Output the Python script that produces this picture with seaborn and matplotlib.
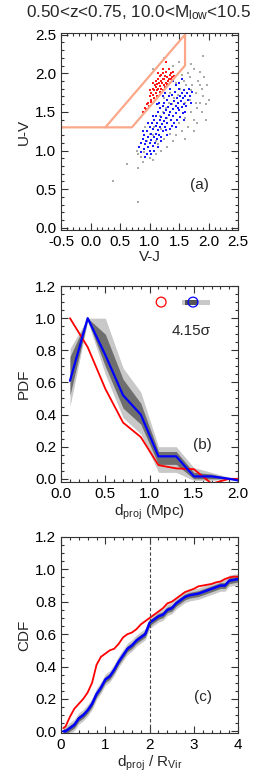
import numpy as np
import pandas as pd
import matplotlib
matplotlib.use("Agg")
import matplotlib.pyplot as plt
import seaborn as sns
from matplotlib.ticker import MultipleLocator

# UVJ 颜色-颜色图中的点
red_vj = [0.92, 0.95, 0.98, 1.00, 1.02, 1.03, 1.05, 1.06, 1.07, 1.08, 1.09, 1.10, 1.10, 1.11, 1.12,
          1.13, 1.14, 1.14, 1.15, 1.16, 1.17, 1.17, 1.18, 1.19, 1.20, 1.20, 1.21, 1.22, 1.23, 1.23,
          1.24, 1.25, 1.26, 1.26, 1.27, 1.28, 1.29, 1.30, 1.31, 1.32, 1.33, 1.34, 1.35, 1.36, 1.38,
          1.40, 1.42, 1.28, 1.03, 0.99, 0.94, 1.12, 1.18, 1.15, 1.22, 1.00, 1.05, 0.88, 1.30, 1.36]
red_uv = [1.55, 1.60, 1.62, 1.70, 1.66, 1.75, 1.72, 1.80, 1.68, 1.78, 1.85, 1.74, 1.82, 1.90, 1.78,
          1.86, 1.70, 1.93, 1.80, 1.88, 1.76, 1.96, 1.84, 1.90, 1.80, 1.98, 1.87, 1.93, 1.78, 2.00,
          1.85, 1.92, 1.82, 1.97, 1.88, 2.02, 1.86, 1.95, 1.90, 2.05, 1.92, 1.98, 1.88, 2.00, 1.95,
          2.02, 1.96, 2.15, 1.63, 1.58, 1.54, 1.70, 1.76, 2.00, 2.06, 1.78, 1.88, 1.50, 1.84, 1.92]

blue_vj = [0.82, 0.85, 0.86, 0.88, 0.90, 0.91, 0.92, 0.94, 0.95, 0.96, 0.97, 0.98, 1.00, 1.00, 1.01,
           1.02, 1.03, 1.04, 1.05, 1.06, 1.07, 1.08, 1.09, 1.10, 1.10, 1.11, 1.12, 1.13, 1.14, 1.15,
           1.16, 1.17, 1.18, 1.18, 1.19, 1.20, 1.21, 1.22, 1.23, 1.24, 1.25, 1.25, 1.26, 1.27, 1.28,
           1.29, 1.30, 1.31, 1.32, 1.33, 1.34, 1.35, 1.36, 1.37, 1.38, 1.39, 1.40, 1.41, 1.42, 1.43,
           1.44, 1.45, 1.46, 1.47, 1.48, 1.49, 1.50, 1.51, 1.52, 1.53, 1.54, 1.55, 1.56, 1.57, 1.58,
           1.59, 1.60, 1.62, 1.63, 1.65, 1.66, 1.68, 1.70, 1.72, 1.12, 1.05, 0.98, 1.15, 1.30, 1.45,
           1.22, 1.35, 1.58, 1.50, 1.40, 1.08, 0.93, 1.20, 1.28, 1.38, 1.48, 1.60, 1.16, 1.26, 1.02,
           0.88, 1.44, 1.55]
blue_uv = [1.05, 1.10, 0.98, 1.15, 1.02, 1.20, 1.08, 1.12, 0.96, 1.25, 1.05, 1.18, 1.10, 1.30, 1.00,
           1.22, 1.14, 1.35, 1.06, 1.28, 1.18, 1.40, 1.10, 1.32, 1.22, 1.45, 1.15, 1.36, 1.26, 1.50,
           1.20, 1.40, 1.30, 1.55, 1.12, 1.44, 1.34, 1.58, 1.25, 1.48, 1.38, 1.62, 1.30, 1.52, 1.42,
           1.66, 1.35, 1.56, 1.46, 1.70, 1.28, 1.50, 1.60, 1.40, 1.72, 1.54, 1.45, 1.64, 1.36, 1.76,
           1.58, 1.48, 1.68, 1.40, 1.62, 1.80, 1.52, 1.70, 1.44, 1.64, 1.75, 1.56, 1.68, 1.48, 1.78,
           1.60, 1.70, 1.58, 1.74, 1.66, 1.80, 1.70, 1.62, 1.76, 1.60, 1.45, 1.35, 1.05, 1.20, 1.30,
           1.70, 1.80, 1.40, 1.88, 1.90, 1.00, 0.92, 1.18, 1.26, 1.32, 1.55, 1.50, 1.62, 1.75, 0.95,
           1.25, 1.85, 1.92]

gray_vj = [0.80, 0.85, 0.78, 0.90, 1.00, 0.95, 1.05, 1.10, 1.15, 1.20, 1.25, 1.30, 1.35, 1.40, 1.45,
           1.50, 1.55, 1.60, 1.65, 1.70, 1.75, 1.80, 1.85, 1.90, 1.95, 2.00, 1.88, 1.82, 1.78, 1.72,
           1.68, 1.65, 1.75, 1.85, 1.92, 1.98, 1.62, 1.58, 1.52, 1.48, 1.42, 1.38, 1.32, 1.28, 1.22,
           1.18, 1.12, 1.08, 1.00, 0.92, 1.15, 1.25, 1.35, 1.45, 1.55, 1.70, 1.90, 1.40, 1.25, 1.50,
           1.05, 1.60, 1.75, 1.80, 1.95, 1.68, 1.78, 1.88, 0.62, 0.38, 0.81, 0.80, 0.88, 1.05, 1.70,
           1.85, 1.60, 1.30, 1.20, 1.10, 0.98]
gray_uv = [0.95, 0.92, 1.00, 0.98, 0.90, 1.12, 1.20, 0.95, 1.08, 1.00, 1.15, 1.05, 1.22, 1.12, 1.20,
           1.35, 1.25, 1.42, 1.30, 1.50, 1.40, 1.55, 1.62, 1.70, 1.60, 1.65, 1.80, 1.90, 1.75, 1.85,
           1.95, 2.00, 2.05, 2.02, 1.95, 1.85, 1.85, 1.90, 1.80, 1.72, 1.68, 1.60, 1.62, 1.55, 1.50,
           1.45, 1.35, 1.30, 1.22, 1.30, 1.60, 1.68, 1.75, 1.88, 1.98, 2.12, 2.22, 2.10, 2.20, 2.15,
           2.05, 1.15, 1.25, 1.35, 1.40, 1.65, 1.62, 1.50, 0.83, 0.61, 0.33, 0.78, 0.85, 0.88, 1.78,
           1.85, 1.62, 1.42, 1.28, 1.12, 1.05]

# UVJ 选择框
box_x = [-0.5, 0.70, 1.60, 1.60]
box_y = [1.30, 1.30, 2.10, 2.50]
box2_x = [0.25, 1.60]
box2_y = [1.30, 2.50]

# (b) PDF
pdf_x = [0.1, 0.3, 0.5, 0.7, 0.9, 1.1, 1.3, 1.5, 1.7, 1.9, 2.1]
pdf_blue = [0.61, 1.00, 0.77, 0.52, 0.40, 0.14, 0.14, 0.015, 0.015, 0.0, -0.02]
pdf_red = [1.00, 0.82, 0.56, 0.35, 0.26, 0.085, 0.065, 0.06, -0.03, 0.0, 0.0]
pdf_lo2 = [0.45, 0.98, 0.65, 0.38, 0.28, 0.04, 0.04, -0.01, -0.01, 0.0, -0.03]
pdf_hi2 = [0.81, 1.00, 1.00, 0.69, 0.54, 0.20, 0.20, 0.07, 0.04, 0.01, -0.01]
pdf_lo1 = [0.52, 0.99, 0.70, 0.44, 0.34, 0.09, 0.09, 0.0, 0.0, 0.0, -0.025]
pdf_hi1 = [0.76, 1.00, 0.90, 0.62, 0.47, 0.17, 0.17, 0.04, 0.03, 0.005, -0.015]

# (c) CDF
cdf_x = [0.05, 0.1, 0.2, 0.3, 0.4, 0.5, 0.6, 0.7, 0.8, 0.9, 1.0, 1.1, 1.2, 1.3, 1.4, 1.5, 1.6,
         1.7, 1.8, 1.9, 2.0, 2.1, 2.2, 2.3, 2.4, 2.5, 2.6, 2.7, 2.8, 2.9, 3.0, 3.1, 3.2, 3.3,
         3.4, 3.5, 3.6, 3.7, 3.8, 3.9, 4.0]
cdf_blue = [0.00, 0.00, 0.02, 0.04, 0.08, 0.10, 0.13, 0.17, 0.23, 0.27, 0.32, 0.34, 0.38, 0.43,
            0.47, 0.51, 0.53, 0.56, 0.58, 0.60, 0.67, 0.69, 0.71, 0.72, 0.75, 0.76, 0.79, 0.81,
            0.83, 0.84, 0.845, 0.85, 0.86, 0.87, 0.88, 0.89, 0.90, 0.90, 0.93, 0.935, 0.94]
cdf_red = [0.02, 0.03, 0.09, 0.14, 0.17, 0.20, 0.24, 0.30, 0.41, 0.46, 0.48, 0.50, 0.51, 0.54,
           0.58, 0.60, 0.61, 0.63, 0.66, 0.68, 0.70, 0.72, 0.74, 0.76, 0.79, 0.80, 0.82, 0.84,
           0.86, 0.87, 0.88, 0.895, 0.90, 0.905, 0.91, 0.92, 0.925, 0.94, 0.95, 0.955, 0.955]
cdf_w2 = 0.035
cdf_w1 = 0.018

# 顶部标记 (b)
mark_red = 1.13
mark_blue = 1.49
mark_y = 1.10
mark_lo2, mark_hi2 = 1.36, 1.68
mark_lo1, mark_hi1 = 1.40, 1.55

sns.set_style("ticks")
plt.rcParams["font.family"] = ["Liberation Sans", "DejaVu Sans"]
plt.rcParams["mathtext.fontset"] = "custom"
plt.rcParams["mathtext.rm"] = "Liberation Sans"
plt.rcParams["mathtext.it"] = "Liberation Sans:italic"
plt.rcParams["font.size"] = 11

FS = 11

fig = plt.figure(figsize=(2.6, 7.8), dpi=100)
ax_a = fig.add_axes([0.235, 0.705, 0.681, 0.2526])
ax_b = fig.add_axes([0.235, 0.382, 0.681, 0.2513])
ax_c = fig.add_axes([0.235, 0.0603, 0.681, 0.2513])


def style_axis(ax, xmaj, xmin, ymaj, ymin):
    ax.xaxis.set_major_locator(MultipleLocator(xmaj))
    ax.xaxis.set_minor_locator(MultipleLocator(xmin))
    ax.yaxis.set_major_locator(MultipleLocator(ymaj))
    ax.yaxis.set_minor_locator(MultipleLocator(ymin))
    ax.tick_params(which="both", direction="in", top=True, right=True, labelsize=FS, width=0.8,
                   colors="#333333", labelcolor="black")
    ax.tick_params(which="major", length=5)
    ax.tick_params(which="minor", length=2.5)
    for s in ax.spines.values():
        s.set_linewidth(0.8)
        s.set_color("#333333")


# (a) UVJ
sns.scatterplot(x=gray_vj, y=gray_uv, ax=ax_a, color="#aaaaaa", s=1.0, marker="s", linewidth=0)
sns.scatterplot(x=blue_vj, y=blue_uv, ax=ax_a, color="#1a1aff", s=1.4, marker="s", linewidth=0)
sns.scatterplot(x=red_vj, y=red_uv, ax=ax_a, color="#ff1a1a", s=1.4, marker="s", linewidth=0)
ax_a.plot(box_x, box_y, color="#fba88a", lw=1.6)
ax_a.plot(box2_x, box2_y, color="#fba88a", lw=1.6)
ax_a.set_xlim(-0.5, 2.5)
ax_a.set_ylim(-0.03, 2.52)
style_axis(ax_a, 0.5, 0.1, 0.5, 0.1)
ax_a.xaxis.set_major_formatter(plt.FormatStrFormatter("%.1f"))
ax_a.yaxis.set_major_formatter(plt.FormatStrFormatter("%.1f"))
ax_a.set_xlabel("V-J", fontsize=FS, labelpad=1)
ax_a.set_ylabel("U-V", fontsize=FS, labelpad=3)
ax_a.text(1.85, 0.55, "(a)", fontsize=FS, ha="center", va="center")
fig.text(0.1, 0.984, r"0.50<z<0.75, 10.0<M$_{\rm low}$<10.5", fontsize=12.3, ha="left", va="center")

# (b) PDF
ax_b.fill_between(pdf_x, pdf_lo2, pdf_hi2, color="#c8c8c8", lw=0)
ax_b.fill_between(pdf_x, pdf_lo1, pdf_hi1, color="#6e6e6e", lw=0)
sns.lineplot(x=pdf_x, y=pdf_red, ax=ax_b, color="#ff0000", lw=1.3, estimator=None, sort=False)
sns.lineplot(x=pdf_x, y=pdf_blue, ax=ax_b, color="#0000ff", lw=1.6, estimator=None, sort=False)
ax_b.fill_between([mark_lo2, mark_hi2], mark_y - 0.015, mark_y + 0.015, color="#c8c8c8", lw=0)
ax_b.fill_between([mark_lo1, mark_hi1], mark_y - 0.015, mark_y + 0.015, color="#555555", lw=0)
ax_b.scatter([mark_red], [mark_y], s=50, facecolor="none", edgecolor="#ff0000", lw=0.9)
ax_b.scatter([mark_blue], [mark_y], s=50, facecolor="none", edgecolor="#0000ff", lw=0.9)
ax_b.text(1.47, 0.92, "4.15σ", fontsize=FS, ha="center", va="center")
ax_b.text(1.6, 0.21, "(b)", fontsize=FS, ha="center", va="center")
ax_b.set_xlim(0, 2.0)
ax_b.set_ylim(-0.02, 1.2)
style_axis(ax_b, 0.5, 0.1, 0.2, 0.05)
ax_b.xaxis.set_major_formatter(plt.FormatStrFormatter("%.1f"))
ax_b.yaxis.set_major_formatter(plt.FormatStrFormatter("%.1f"))
ax_b.set_xlabel(r"d$_{\rm proj}$ (Mpc)", fontsize=FS, labelpad=1)
ax_b.set_ylabel("PDF", fontsize=FS, labelpad=3)

# (c) CDF
cb = np.array(cdf_blue)
ax_c.fill_between(cdf_x, cb - cdf_w2, cb + cdf_w2, color="#c8c8c8", lw=0)
ax_c.fill_between(cdf_x, cb - cdf_w1, cb + cdf_w1, color="#6e6e6e", lw=0)
sns.lineplot(x=cdf_x, y=cdf_red, ax=ax_c, color="#ff0000", lw=1.3, estimator=None, sort=False)
sns.lineplot(x=cdf_x, y=cdf_blue, ax=ax_c, color="#0000ff", lw=1.8, estimator=None, sort=False)
ax_c.axvline(2.0, color="#444444", lw=0.8, ls=(0, (3, 2)))
ax_c.text(3.2, 0.21, "(c)", fontsize=FS, ha="center", va="center")
ax_c.set_xlim(0, 4)
ax_c.set_ylim(-0.01, 1.2)
style_axis(ax_c, 1, 0.2, 0.2, 0.05)
ax_c.yaxis.set_major_formatter(plt.FormatStrFormatter("%.1f"))
ax_c.set_xlabel(r"d$_{\rm proj}$ / R$_{\rm Vir}$", fontsize=FS, labelpad=1)
ax_c.set_ylabel("CDF", fontsize=FS, labelpad=3)

fig.savefig("out.png", dpi=100)
